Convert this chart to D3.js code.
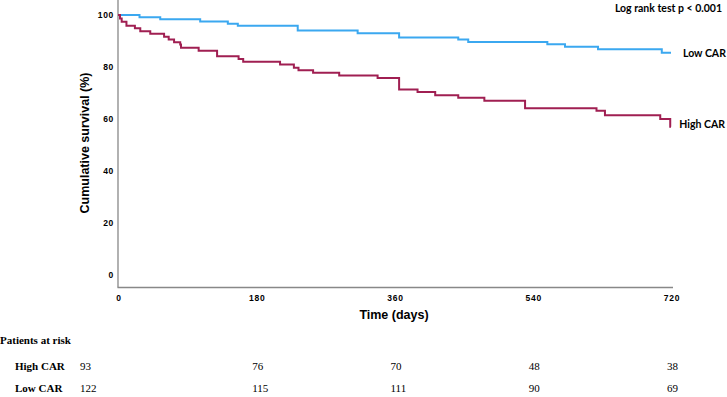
<!DOCTYPE html>
<html>
<head>
<meta charset="utf-8">
<script src="https://cdn.jsdelivr.net/npm/d3@7"></script>
<style>
  body { margin: 0; background: #fff; }
  svg { display: block; }
</style>
</head>
<body>
<svg id="chart" width="727" height="397"></svg>
<script>
// survival curves (days, %)
const lowDays  = [0, 28, 55, 107, 143, 156, 234, 312, 366, 443, 456, 559, 582, 625, 708, 720];
const lowSurv  = [100, 99.2, 98.4, 97.5, 96.7, 95.9, 94.1, 93.0, 91.4, 90.6, 89.6, 88.8, 87.8, 86.9, 85.5, 85.5];
const highDays = [0, 2.6, 4.8, 11, 22, 29, 42, 60, 66, 73, 81, 82, 105, 129, 157, 163, 211, 229, 235, 254, 288, 338, 366, 390, 413, 443, 477, 530, 623, 634, 706, 719, 720];
const highSurv = [100, 98.7, 97.4, 95.9, 94.9, 93.8, 92.8, 91.7, 90.6, 89.5, 88.7, 87.4, 86.3, 84.2, 83.1, 82.0, 81.0, 79.7, 78.8, 77.8, 76.8, 75.8, 71.4, 70.4, 69.2, 68.2, 67.0, 64.2, 63.2, 61.5, 60.0, 57.0, 57.0];

const xTicks = [0, 180, 360, 540, 720];
const yTicks = [0, 20, 40, 60, 80, 100];

// patients at risk
const riskGroups = ['High CAR', 'Low CAR'];
const riskHigh = [93, 76, 70, 48, 38];
const riskLow  = [122, 115, 111, 90, 69];

const svg = d3.select('#chart');

const x = d3.scaleLinear().domain([0, 720]).range([118, 671]);
const y = d3.scaleLinear().domain([-4.6, 105.8]).range([287, 0]);

const blue = '#3ba8f0';
const crimson = '#a01f52';

// axes lines
svg.append('line')
  .attr('x1', 118).attr('x2', 118).attr('y1', 0).attr('y2', 287.5)
  .attr('stroke', '#888').attr('stroke-width', 1.3);
svg.append('line')
  .attr('x1', 117.5).attr('x2', 673).attr('y1', 287.5).attr('y2', 287.5)
  .attr('stroke', '#888').attr('stroke-width', 1.3);

const tickFont = '"Liberation Sans", Arial, sans-serif';

svg.append('g').selectAll('text')
  .data(yTicks)
  .join('text')
  .attr('x', 114)
  .attr('y', d => y(d) + 3)
  .attr('text-anchor', 'end')
  .attr('font-family', tickFont)
  .attr('font-weight', 'bold')
  .attr('font-size', 8.5)
  .attr('letter-spacing', 0.7)
  .text(d => d);

svg.append('g').selectAll('text')
  .data(xTicks)
  .join('text')
  .attr('x', d => x(d) + 1)
  .attr('y', 301)
  .attr('text-anchor', 'middle')
  .attr('font-family', tickFont)
  .attr('font-weight', 'bold')
  .attr('font-size', 8.5)
  .attr('letter-spacing', 0.7)
  .text(d => d);

// axis titles
svg.append('text')
  .attr('transform', 'translate(89,143) rotate(-90)')
  .attr('text-anchor', 'middle')
  .attr('font-family', tickFont)
  .attr('font-weight', 'bold')
  .attr('font-size', 12.5)
  .text('Cumulative survival (%)');

svg.append('text')
  .attr('x', 394)
  .attr('y', 319)
  .attr('text-anchor', 'middle')
  .attr('font-family', tickFont)
  .attr('font-weight', 'bold')
  .attr('font-size', 12.5)
  .text('Time (days)');

// curves
const line = d3.line()
  .x(d => x(d[0]))
  .y(d => y(d[1]))
  .curve(d3.curveStepAfter);

svg.append('path')
  .datum(lowDays.map((d, i) => [d, lowSurv[i]]))
  .attr('d', line)
  .attr('fill', 'none')
  .attr('stroke', blue)
  .attr('stroke-width', 2);

svg.append('path')
  .datum(highDays.map((d, i) => [d, highSurv[i]]))
  .attr('d', line)
  .attr('fill', 'none')
  .attr('stroke', crimson)
  .attr('stroke-width', 2);

// labels
const labFont = 'Lato, "Open Sans", sans-serif';
svg.append('text')
  .attr('x', 722).attr('y', 12)
  .attr('text-anchor', 'end')
  .attr('font-family', labFont).attr('font-weight', 'bold').attr('font-size', 10.5)
  .text('Log rank test p < 0.001');
svg.append('text')
  .attr('x', 683).attr('y', 57)
  .attr('font-family', labFont).attr('font-weight', 'bold').attr('font-size', 10.5)
  .text('Low CAR');
svg.append('text')
  .attr('x', 725).attr('y', 128)
  .attr('text-anchor', 'end')
  .attr('font-family', labFont).attr('font-weight', 'bold').attr('font-size', 10.5)
  .text('High CAR');

// patients at risk table
const serif = '"Liberation Serif", "Times New Roman", serif';
svg.append('text')
  .attr('x', 0).attr('y', 344)
  .attr('font-family', serif).attr('font-weight', 'bold').attr('font-size', 11)
  .text('Patients at risk');

const riskX = d3.scalePoint().domain(xTicks).range([x(0), x(720)]);
const riskRows = [riskHigh, riskLow];
riskRows.forEach((row, r) => {
  const yy = 370 + r * 22;
  svg.append('text')
    .attr('x', 15).attr('y', yy)
    .attr('font-family', serif).attr('font-weight', 'bold').attr('font-size', 11)
    .text(riskGroups[r]);
  svg.append('g').selectAll('text')
    .data(row)
    .join('text')
    .attr('x', (d, i) => i === 0 ? 80 : riskX(xTicks[i]) - 4)
    .attr('y', yy)
    .attr('font-family', serif).attr('font-size', 11)
    .text(d => d);
});
</script>
</body>
</html>
